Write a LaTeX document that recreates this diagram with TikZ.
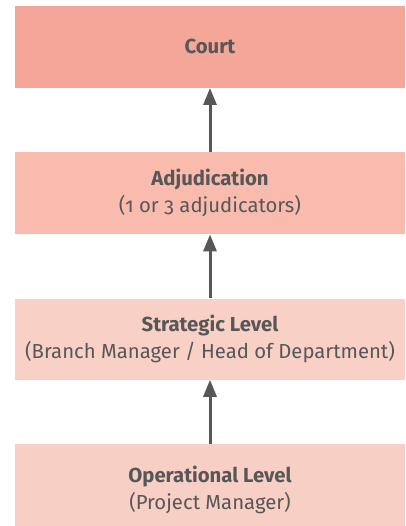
\documentclass[tikz,border=0pt]{standalone}
\usepackage{fontspec}
\setmainfont{Fira Sans}[Numbers=OldStyle]
\usetikzlibrary{positioning,arrows.meta}

\definecolor{courtfill}{HTML}{F4A698}
\definecolor{adjfill}{HTML}{F8BBAE}
\definecolor{stratfill}{HTML}{F9D0C6}
\definecolor{opfill}{HTML}{F8CFC5}
\definecolor{inkgray}{HTML}{575757}

\tikzset{
  tier/.style={minimum width=390pt, minimum height=82pt, inner sep=0pt,
    text=inkgray, align=center, font=\fontsize{20.3}{27}\selectfont},
  uparrow/.style={draw=inkgray, line width=3pt,
    -{Triangle[length=17pt,width=13pt]}}
}

\begin{document}
\begin{tikzpicture}
\useasboundingbox (0,0) rectangle (405pt,526pt);
\node[tier, fill=opfill, minimum height=92pt] (oper) at (210pt,36pt)
  {\textbf{Operational Level}\\(Project Manager)};
\node[tier, fill=stratfill, minimum height=81pt, above=64pt of oper] (strat)
  {\textbf{Strategic Level}\\(Branch Manager / Head of Department)};
\node[tier, fill=adjfill, above=64pt of strat] (adj)
  {\textbf{Adjudication}\\(1 or 3 adjudicators)};
\node[tier, fill=courtfill, above=64pt of adj] (court)
  {\textbf{Court}};
% escalation path
\draw[uparrow] (oper) -- (strat);
\draw[uparrow] (strat) -- (adj);
\draw[uparrow] (adj) -- (court);
\end{tikzpicture}
\end{document}
